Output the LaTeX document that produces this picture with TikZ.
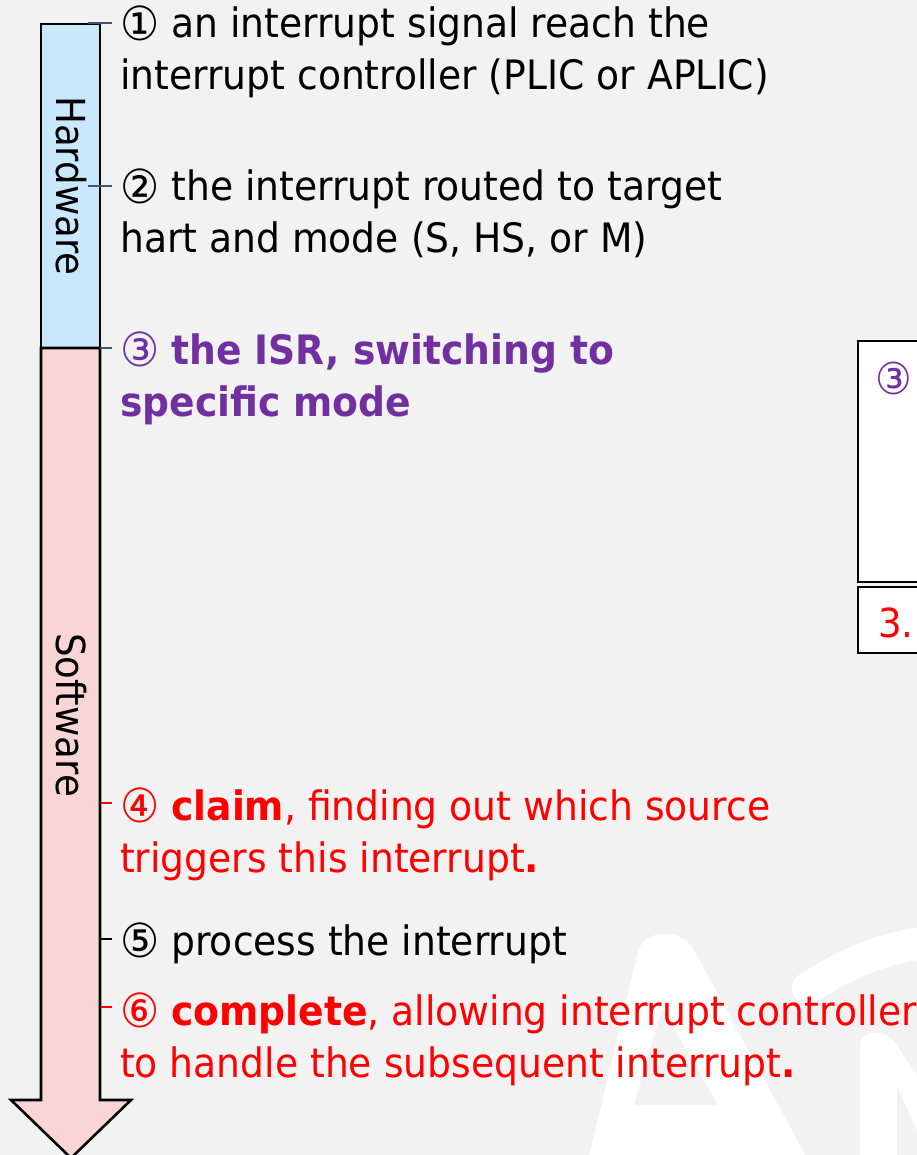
\documentclass[tikz,border=0pt]{standalone}
\usepackage{fontspec}
\setmainfont{DejaVu Sans}[FakeStretch=0.93]
\definecolor{bg}{HTML}{F2F2F2}
\definecolor{hwblue}{HTML}{C9E8FB}
\definecolor{swpink}{HTML}{FAD5D5}
\definecolor{slate}{HTML}{44546A}
\definecolor{isrpurple}{HTML}{7030A0}
\definecolor{alertred}{HTML}{FF0000}
% enlarged circled step numbers
\newcommand\stepno[1]{\raisebox{-2.5pt}{\fontsize{47}{52}\selectfont #1}}
\begin{document}
\begin{tikzpicture}[x=1pt,y=-1pt]
\tikzset{
  item/.style={anchor=base west, inner sep=0pt, font=\fontsize{40.5}{52}\selectfont},
  lane/.style={rotate=-90, inner sep=0pt, font=\fontsize{40}{48}\selectfont},
  tickline/.style={line width=1.2pt},
  frame/.style={draw=black, line width=2.6pt, line join=miter},
}
% canvas
\fill[bg] (0,0) rectangle (917,1155);
\useasboundingbox (0,0) rectangle (917,1155);

% faint logo letters in the background
\fill[white] (588,1160) -- (638,952) .. controls (642,939) and (651,934) .. (665,934)
  .. controls (679,934) and (689,940) .. (695,952) -- (808,1160) -- cycle;
\fill[bg] (634,1105) -- (662,1008) -- (718,1105) -- cycle;
\draw[white, line width=32pt, line cap=round] (808,988) .. controls (850,962) and (885,946) .. (935,942);
\fill[white] (860,1160) -- (860,1046) .. controls (860,1037) and (866,1033) .. (876,1033)
  .. controls (886,1033) and (891,1037) .. (896,1044) -- (925,1088) -- (925,1150)
  -- (897,1086) -- (897,1160) -- cycle;

% partial boxes on the right
\draw[frame, fill=white] (858,341) rectangle (945,582);
\draw[frame, fill=white] (858,587) rectangle (945,653);
\node[inner sep=0pt, text=isrpurple, font=\fontsize{44}{48}\selectfont] (c3) at (894,378) {③};
\node[anchor=base west, inner sep=0pt, text=alertred, font=\fontsize{40}{48}\selectfont] (n3) at (878,637) {3.};

% time arrow: hardware part and software part
\draw[frame, fill=hwblue] (41,24) rectangle (100,348);
\draw[frame, fill=swpink] (41,348) -- (100,348) -- (100,1100) -- (131,1100) -- (71,1158)
  -- (11,1100) -- (41,1100) -- cycle;
\node[lane] (hw) at (71,186) {Hardware};
\node[lane] (sw) at (71,715) {Software};

% steps
\node[item] (s1a) at (120,38) {\stepno{①} an interrupt signal reach the};
\node[item] (s1b) at (120,90) {interrupt controller (PLIC or APLIC)};
\node[item] (s2a) at (120,201) {\stepno{②} the interrupt routed to target};
\node[item] (s2b) at (120,253) {hart and mode (S, HS, or M)};
\node[item, text=isrpurple] (s3a) at (120,364) {\stepno{③} \textbf{the ISR, switching to}};
\node[item, text=isrpurple] (s3b) at (120,416) {\textbf{specific mode}};
\node[item, text=alertred] (s4a) at (120,820) {\stepno{④} \textbf{claim}, finding out which source};
\node[item, text=alertred] (s4b) at (120,872) {triggers this interrupt\textbf{.}};
\node[item] (s5a) at (120,955) {\stepno{⑤} process the interrupt};
\node[item, text=alertred] (s6a) at (120,1025) {\stepno{⑥} \textbf{complete}, allowing interrupt controller};
\node[item, text=alertred] (s6b) at (120,1077) {to handle the subsequent interrupt\textbf{.}};

% ticks from the arrow to each step
\coordinate (k1) at (88,23);
\coordinate (k2) at (88,186);
\coordinate (k3) at (100,348);
\coordinate (k4) at (101,803);
\coordinate (k5) at (101,939);
\coordinate (k6) at (101,1007);
\draw[tickline, slate] (k1) -- ([xshift=-8pt]s1a.west |- k1);
\draw[tickline, slate] (k2) -- ([xshift=-8pt]s2a.west |- k2);
\draw[tickline, slate] (k3) -- ([xshift=-8pt]s3a.west |- k3);
\draw[tickline, alertred] (k4) -- ([xshift=-8pt]s4a.west |- k4);
\draw[tickline, black] (k5) -- ([xshift=-8pt]s5a.west |- k5);
\draw[tickline, alertred] (k6) -- ([xshift=-8pt]s6a.west |- k6);
\end{tikzpicture}
\end{document}
